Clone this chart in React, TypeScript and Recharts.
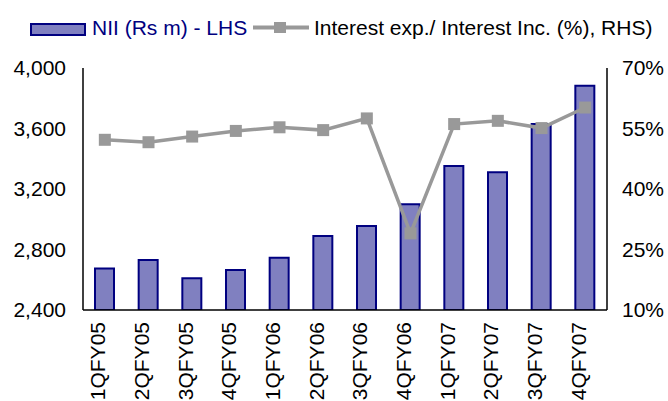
import React from "react";
import { ComposedChart, Bar, Line, XAxis, YAxis } from "recharts";

const categories = ["1QFY05","2QFY05","3QFY05","4QFY05","1QFY06","2QFY06","3QFY06","4QFY06","1QFY07","2QFY07","3QFY07","4QFY07"];
const nii = [2675, 2730, 2610, 2665, 2745, 2890, 2955, 3100, 3352, 3310, 3630, 3883];
const ratio = [52.2, 51.6, 53.0, 54.4, 55.3, 54.6, 57.5, 29.0, 56.1, 56.9, 55.1, 60.2];
const leftTicks = [2400, 2800, 3200, 3600, 4000];
const rightTicks = [10, 25, 40, 55, 70];

const data = categories.map((c, i) => ({ cat: c, nii: nii[i], ratio: ratio[i] }));

const FONT = "'Liberation Sans', Arial, sans-serif";
const BAR_FILL = "#8080c0";
const BAR_STROKE = "#000080";
const LINE = "#999999";

const XTick = (props: any) => {
  const { x, y, payload } = props;
  return (
    <g transform={`translate(${x},${y})`}>
      <text transform="rotate(-90)" textAnchor="end" dy="0.02em" fontSize={21} fontFamily={FONT} fill="#000">
        {payload.value}
      </text>
    </g>
  );
};

const Square = (props: any) => {
  const { cx, cy } = props;
  if (cx == null || cy == null) return null;
  const s = 12;
  return <rect x={cx - s / 2} y={cy - s / 2} width={s} height={s} fill={LINE} />;
};

export default function App() {
  return (
    <div style={{ position: "absolute", left: 0, top: 0, width: 668, height: 401, background: "#fff" }}>
      <svg width={668} height={50} style={{ position: "absolute", left: 0, top: 0 }}>
        <rect x={31} y={24} width={54} height={11} fill={BAR_FILL} stroke={BAR_STROKE} strokeWidth={2} />
        <text x={92} y={35} fontSize={21} fontFamily={FONT} fill="#000080">NII (Rs m) - LHS</text>
        <line x1={253} x2={309} y1={27.5} y2={27.5} stroke={LINE} strokeWidth={4} />
        <rect x={274} y={22} width={12} height={11} fill={LINE} />
        <text x={314} y={35} fontSize={21} fontFamily={FONT} fill="#000">Interest exp./ Interest Inc. (%), RHS)</text>
      </svg>
      <ComposedChart
        width={668}
        height={401}
        data={data}
        margin={{ top: 68, right: 0, bottom: 0, left: 0 }}
        style={{ position: "absolute", left: 0, top: 0 }}
      >
        <XAxis
          dataKey="cat"
          interval={0}
          tickLine={false}
          tickSize={0}
          tickMargin={12}
          height={91}
          tick={<XTick />}
          axisLine={{ stroke: "#000", strokeWidth: 1.5 }}
        />
        <YAxis
          yAxisId="left"
          orientation="left"
          width={83}
          domain={[2400, 4000]}
          ticks={leftTicks}
          allowDataOverflow
          tickLine={false}
          tickSize={0}
          tickMargin={17}
          tickFormatter={(v: number) => v.toLocaleString("en-US")}
          tick={{ fontSize: 21, fontFamily: FONT, fill: "#000" }}
          axisLine={{ stroke: "#000", strokeWidth: 1.5 }}
        />
        <YAxis
          yAxisId="right"
          orientation="right"
          width={61}
          domain={[10, 70]}
          ticks={rightTicks}
          tickLine={false}
          tickSize={0}
          tickMargin={15}
          tickFormatter={(v: number) => `${v}%`}
          tick={{ fontSize: 21, fontFamily: FONT, fill: "#000", textAnchor: "start" }}
          axisLine={{ stroke: "#000", strokeWidth: 1.5 }}
        />
        <Bar
          yAxisId="left"
          dataKey="nii"
          barSize={19}
          fill={BAR_FILL}
          stroke={BAR_STROKE}
          strokeWidth={2}
          isAnimationActive={false}
        />
        <Line
          yAxisId="right"
          dataKey="ratio"
          stroke={LINE}
          strokeWidth={3.5}
          dot={<Square />}
          activeDot={false}
          isAnimationActive={false}
        />
      </ComposedChart>
    </div>
  );
}
